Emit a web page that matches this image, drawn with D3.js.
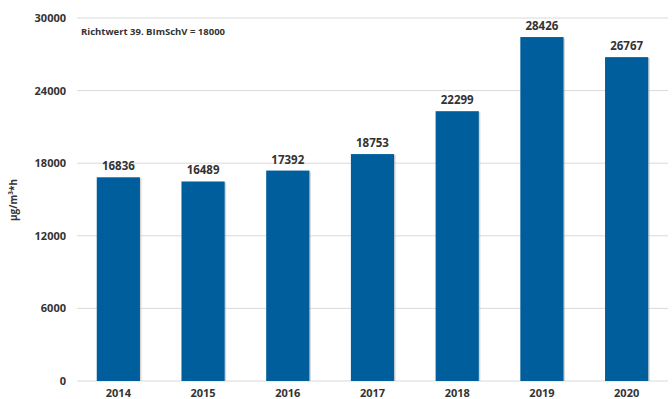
<!DOCTYPE html>
<html>
<head>
<meta charset="utf-8">
<script src="https://cdn.jsdelivr.net/npm/d3@7"></script>
<style>
  html, body { margin: 0; padding: 0; background: #fff; }
  svg { display: block; font-family: "Open Sans", "Noto Sans", sans-serif; }
</style>
</head>
<body>
<svg id="chart" width="672" height="399"></svg>
<script>
// AOT40 values per year
const years = ["2014", "2015", "2016", "2017", "2018", "2019", "2020"];
const values = [16836, 16489, 17392, 18753, 22299, 28426, 26767];
const yTicks = [0, 6000, 12000, 18000, 24000, 30000];
const yTitle = "µg/m³*h";
const note = "Richtwert 39. BImSchV = 18000";

const svg = d3.select("#chart");

const x = d3.scaleBand().domain(years).range([76, 669]).paddingInner(0.49).paddingOuter(0.245);
const y = d3.scaleLinear().domain([0, 30000]).range([381, 18]);

// gridlines
svg.append("g").selectAll("line").data(yTicks).join("line")
  .attr("x1", 77).attr("x2", 668)
  .attr("y1", d => y(d)).attr("y2", d => y(d))
  .attr("stroke", "#d9d9d9").attr("stroke-width", 1);

// y axis labels
const yAxis = svg.append("g").attr("transform", "translate(66,0)")
  .call(d3.axisLeft(y).tickValues(yTicks).tickSize(0).tickPadding(0).tickFormat(d3.format("d")));
yAxis.select(".domain").remove();
yAxis.selectAll("text").attr("font-size", 11).attr("font-weight", 700).attr("fill", "#333")
  .attr("font-family", "'Open Sans', sans-serif");

// x axis labels
const xAxis = svg.append("g").attr("transform", "translate(0,381)")
  .call(d3.axisBottom(x).tickSize(0).tickPadding(8));
xAxis.select(".domain").remove();
xAxis.selectAll("text").attr("font-size", 11).attr("font-weight", 700).attr("fill", "#333")
  .attr("font-family", "'Open Sans', sans-serif");

// bar shadows
svg.append("g").selectAll("rect").data(values).join("rect")
  .attr("x", (d, i) => x(years[i]) + 1.5)
  .attr("y", d => y(d) + 1)
  .attr("width", x.bandwidth())
  .attr("height", d => y(0) - y(d) - 1)
  .attr("fill", "#bbb").attr("opacity", 0.6);

// bars
svg.append("g").selectAll("rect").data(values).join("rect")
  .attr("x", (d, i) => x(years[i]))
  .attr("y", d => y(d))
  .attr("width", x.bandwidth())
  .attr("height", d => y(0) - y(d))
  .attr("fill", "#005e9c");

// value labels
svg.append("g").selectAll("text").data(values).join("text")
  .attr("x", (d, i) => x(years[i]) + x.bandwidth() / 2)
  .attr("y", d => y(d) - 7)
  .attr("text-anchor", "middle")
  .attr("font-size", 11.5).attr("font-weight", 700).attr("fill", "#333")
  .text(d => d);

// annotation
svg.append("text").attr("x", 81).attr("y", 35)
  .attr("font-size", 9.5).attr("font-weight", 700).attr("fill", "#333")
  .text(note);

// y title
svg.append("text")
  .attr("transform", "translate(17,200) rotate(-90)")
  .attr("text-anchor", "middle")
  .attr("font-size", 10).attr("font-weight", 700).attr("fill", "#333")
  .text(yTitle);
</script>
</body>
</html>
